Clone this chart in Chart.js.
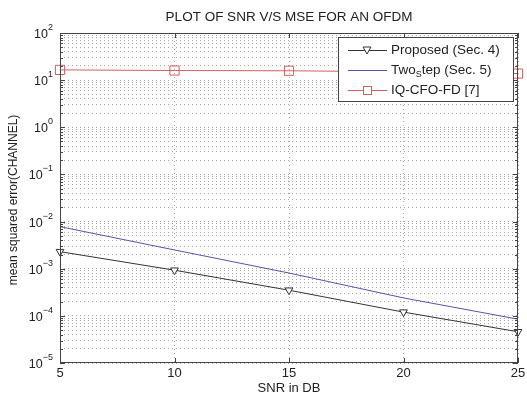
<!DOCTYPE html>
<html>
<head>
<meta charset="utf-8">
<script src="https://cdn.jsdelivr.net/npm/chart.js@4.4.0/dist/chart.umd.min.js"></script>
<style>
  html, body { margin: 0; padding: 0; background: #fff; }
  #wrap { width: 527px; height: 394px; position: relative; }
</style>
</head>
<body>
<div id="wrap"><canvas id="chart"></canvas></div>
<script>
// SNR values (dB) on the x axis
const snr = [5, 10, 15, 20, 25];

// MSE
const proposed = [2.3e-3, 9.3e-4, 3.5e-4, 1.2e-4, 4.6e-5];
const twoStep = [7.8e-3, 2.5e-3, 8.1e-4, 2.4e-4, 8.5e-5];
const iqCfoFd = [16.5, 16, 15.8, 15, 13.8];

const xTicks = [5, 10, 15, 20, 25];
const yDecades = [-5, -4, -3, -2, -1, 0, 1, 2];

const titleText = 'PLOT OF SNR V/S MSE FOR AN OFDM';
const xTitle = 'SNR in DB';
const yTitle = 'mean squared error(CHANNEL)';

const FONT = '"Liberation Sans", Arial, sans-serif';

// every minor/major log tick between 1e-5 and 1e2
function logTicks() {
  const out = [];
  for (let e = -5; e < 2; e++) {
    for (let m = 1; m < 10; m++) out.push({ value: m * Math.pow(10, e) });
  }
  out.push({ value: 100 });
  return out;
}

const decorPlugin = {
  id: 'decor',
  afterDatasetsDraw(chart) {
    const { ctx, chartArea: a, scales: { x, y } } = chart;
    ctx.save();

    // box
    ctx.strokeStyle = '#444';
    ctx.lineWidth = 1;
    ctx.strokeRect(a.left + 0.5, a.top + 0.5, a.right - a.left - 1, a.bottom - a.top - 1);

    // y tick marks, both sides, inward
    y.ticks.forEach(t => {
      const py = Math.round(y.getPixelForValue(t.value)) + 0.5;
      const major = Math.abs(Math.log10(t.value) - Math.round(Math.log10(t.value))) < 1e-9;
      const len = major ? 5 : 3;
      ctx.beginPath();
      ctx.moveTo(a.left, py); ctx.lineTo(a.left + len, py);
      ctx.moveTo(a.right, py); ctx.lineTo(a.right - len, py);
      ctx.stroke();
    });
    // x tick marks
    xTicks.forEach(v => {
      const px = Math.round(x.getPixelForValue(v)) + 0.5;
      ctx.beginPath();
      ctx.moveTo(px, a.bottom); ctx.lineTo(px, a.bottom - 5);
      ctx.moveTo(px, a.top); ctx.lineTo(px, a.top + 5);
      ctx.stroke();
    });

    ctx.fillStyle = '#222';
    // x tick labels
    ctx.font = '13px ' + FONT;
    ctx.textAlign = 'center';
    ctx.textBaseline = 'top';
    xTicks.forEach(v => ctx.fillText(String(v), x.getPixelForValue(v), a.bottom + 4));

    // y tick labels 10^e
    yDecades.forEach(e => {
      const py = y.getPixelForValue(Math.pow(10, e));
      const exp = String(e).replace('-', '\u2212');
      ctx.font = '9px ' + FONT;
      const ew = ctx.measureText(exp).width;
      const right = a.left - 7;
      ctx.textAlign = 'left';
      ctx.textBaseline = 'alphabetic';
      ctx.fillText(exp, right - ew, py - 3);
      ctx.font = '12.5px ' + FONT;
      ctx.textAlign = 'right';
      ctx.fillText('10', right - ew, py + 5);
    });

    // titles
    ctx.font = '13.5px ' + FONT;
    ctx.textAlign = 'center';
    ctx.textBaseline = 'middle';
    ctx.fillText(titleText, (a.left + a.right) / 2, 17);
    ctx.font = '13px ' + FONT;
    ctx.fillText(xTitle, (a.left + a.right) / 2, 388);
    ctx.save();
    ctx.font = '12px ' + FONT;
    ctx.translate(14, (a.top + a.bottom) / 2 + 2);
    ctx.rotate(-Math.PI / 2);
    ctx.fillText(yTitle, 0, 0);
    ctx.restore();

    // legend
    const lx = 338, ly = 37, lw = 175, lh = 64;
    ctx.fillStyle = '#fff';
    ctx.fillRect(lx, ly, lw, lh);
    ctx.strokeStyle = '#444';
    ctx.strokeRect(lx + 0.5, ly + 0.5, lw, lh);
    const rows = [
      { ds: 0, yy: 50 },
      { ds: 1, yy: 70 },
      { ds: 2, yy: 90 }
    ];
    rows.forEach(r => {
      const d = chart.data.datasets[r.ds];
      ctx.strokeStyle = d.borderColor;
      ctx.lineWidth = 1;
      ctx.beginPath();
      ctx.moveTo(348, r.yy + 0.5); ctx.lineTo(387, r.yy + 0.5);
      ctx.stroke();
      if (d.pointStyle === 'triangle') {
        ctx.fillStyle = '#fff';
        ctx.beginPath();
        ctx.moveTo(363, r.yy - 3); ctx.lineTo(371, r.yy - 3); ctx.lineTo(367, r.yy + 4);
        ctx.closePath(); ctx.fill(); ctx.stroke();
      } else if (d.pointStyle === 'rect') {
        ctx.fillStyle = '#fff';
        ctx.fillRect(363, r.yy - 4, 8, 8);
        ctx.strokeRect(363.5, r.yy - 3.5, 8, 8);
      }
      ctx.fillStyle = '#222';
      ctx.font = '13.5px ' + FONT;
      ctx.textAlign = 'left';
      ctx.textBaseline = 'middle';
      if (r.ds === 1) {
        ctx.fillText('Two', 391, r.yy);
        const w1 = ctx.measureText('Two').width;
        ctx.font = '9px ' + FONT;
        ctx.fillText('S', 391 + w1, r.yy + 5);
        const w2 = ctx.measureText('S').width;
        ctx.font = '13.5px ' + FONT;
        ctx.fillText('tep (Sec. 5)', 391 + w1 + w2, r.yy);
      } else {
        ctx.fillText(d.label, 391, r.yy);
      }
    });
    ctx.restore();
  }
};

new Chart(document.getElementById('chart'), {
  type: 'line',
  data: {
    datasets: [
      {
        label: 'Proposed (Sec. 4)',
        data: snr.map((s, i) => ({ x: s, y: proposed[i] })),
        borderColor: '#333',
        backgroundColor: '#fff',
        borderWidth: 1,
        pointStyle: 'triangle',
        rotation: 180,
        pointRadius: 4.5,
        pointBorderWidth: 1,
        tension: 0
      },
      {
        label: 'Two_Step (Sec. 5)',
        data: snr.map((s, i) => ({ x: s, y: twoStep[i] })),
        borderColor: '#5555a8',
        backgroundColor: '#5555a8',
        borderWidth: 1,
        pointRadius: 0,
        tension: 0
      },
      {
        label: 'IQ-CFO-FD [7]',
        data: snr.map((s, i) => ({ x: s, y: iqCfoFd[i] })),
        borderColor: '#d06060',
        backgroundColor: 'rgba(255,255,255,0)',
        borderWidth: 1,
        pointStyle: 'rect',
        pointRadius: 6.5,
        pointBorderWidth: 1,
        tension: 0
      }
    ]
  },
  options: {
    responsive: true,
    maintainAspectRatio: false,
    animation: false,
    clip: false,
    layout: { padding: { left: 60, right: 9, top: 33, bottom: 31 } },
    plugins: {
      legend: { display: false },
      tooltip: { enabled: false },
      title: { display: false }
    },
    scales: {
      x: {
        type: 'linear',
        min: 5,
        max: 25,
        ticks: { display: false, stepSize: 5 },
        afterBuildTicks: s => { s.ticks = xTicks.map(v => ({ value: v })); },
        grid: { color: '#a8a8a8', lineWidth: 1, drawTicks: false },
        border: { display: false, dash: [1, 3] }
      },
      y: {
        type: 'logarithmic',
        min: 1e-5,
        max: 100,
        ticks: { display: false },
        afterBuildTicks: s => { s.ticks = logTicks(); },
        grid: { color: '#a8a8a8', lineWidth: 1, drawTicks: false },
        border: { display: false, dash: [1, 3] }
      }
    }
  },
  plugins: [decorPlugin]
});
</script>
</body>
</html>
